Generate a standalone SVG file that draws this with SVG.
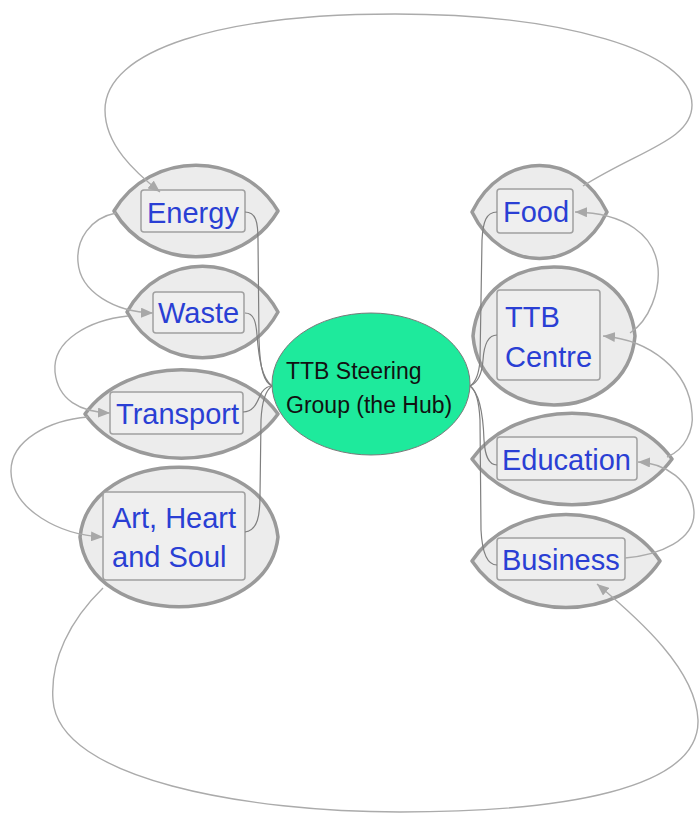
<svg xmlns="http://www.w3.org/2000/svg" width="699" height="815" viewBox="0 0 699 815">
<style>
.lens{fill:#ececec;stroke:#9a9a9a;stroke-width:3.5;stroke-linejoin:round}
.box{fill:#efefef;stroke:#a0a0a0;stroke-width:1.5}
.lbl{font-family:"Liberation Sans",Arial,sans-serif;font-size:29px;fill:#2a3fd4}
.hub{fill:#1eea9c;stroke:#7a7a7a;stroke-width:1}
.hubt{font-family:"Liberation Sans",Arial,sans-serif;font-size:23px;fill:#111}
.hl{fill:none;stroke:#7f7f7f;stroke-width:1.2}
.cl{fill:none;stroke:#ababab;stroke-width:1.4;marker-end:url(#ah)}
</style>
<defs>
<marker id="ah" viewBox="0 0 12 10" refX="12" refY="5" markerWidth="12" markerHeight="10" markerUnits="userSpaceOnUse" orient="auto"><path d="M0,0 L12,5 L0,10 Z" fill="#a8a8a8"/></marker>
</defs>
<rect width="699" height="815" fill="#ffffff"/>
<g id="hub">
<ellipse class="hub" cx="371" cy="384" rx="99" ry="71"/>
<text class="hubt" x="286" y="379">TTB Steering</text>
<text class="hubt" x="286" y="413">Group (the Hub)</text>
</g>
<g id="energy">
<path class="lens" d="M114,211 C150,150 242,150 278,211 C242,272 150,272 114,211Z"/>
<rect class="box" x="141" y="190" width="104" height="42" rx="3"/>
<text class="lbl" x="147" y="223">Energy</text>
</g>
<g id="waste">
<path class="lens" d="M127,312 C160,251 245,251 278,312 C245,373 160,373 127,312Z"/>
<rect class="box" x="153" y="292" width="91" height="41" rx="3"/>
<text class="lbl" x="158" y="323">Waste</text>
</g>
<g id="transport">
<path class="lens" d="M85,414 C127,355 236,355 278,414 C236,473 127,473 85,414Z"/>
<rect class="box" x="110" y="392" width="133" height="42" rx="3"/>
<text class="lbl" x="116" y="424">Transport</text>
</g>
<g id="art">
<path class="lens" d="M80,537 C90,444 268,444 278,537 C268,630 90,630 80,537Z"/>
<rect class="box" x="103" y="492" width="142" height="88" rx="3"/>
<text class="lbl" x="112" y="528">Art, Heart</text>
<text class="lbl" x="112" y="567">and Soul</text>
</g>
<g id="food">
<path class="lens" d="M472,212 C502,150 577,150 607,212 C577,274 502,274 472,212Z"/>
<rect class="box" x="497" y="189" width="76" height="44" rx="3"/>
<text class="lbl" x="503" y="222">Food</text>
</g>
<g id="ttbcentre">
<path class="lens" d="M473,336 C481,244 627,244 635,336 C627,428 481,428 473,336Z"/>
<rect class="box" x="497" y="290" width="103" height="90" rx="3"/>
<text class="lbl" x="505" y="327">TTB</text>
<text class="lbl" x="505" y="367">Centre</text>
</g>
<g id="education">
<path class="lens" d="M472,459 C516,398 628,398 672,459 C628,520 516,520 472,459Z"/>
<rect class="box" x="497" y="437" width="140" height="43" rx="3"/>
<text class="lbl" x="502" y="470">Education</text>
</g>
<g id="business">
<path class="lens" d="M472,561 C513,499 619,499 660,561 C619,623 513,623 472,561Z"/>
<rect class="box" x="497" y="538" width="128" height="42" rx="3"/>
<text class="lbl" x="502" y="570">Business</text>
</g>
<g id="connectors">
<path class="hl" d="M245,212 C256,212 258,222 258,240 L259,340 C260,370 264,382 272,386"/>
<path class="hl" d="M245,313 C254,313 256,322 257,335 C259,360 262,378 272,386"/>
<path class="hl" d="M243,412 C256,412 258,398 262,392 C265,388 268,386 272,386"/>
<path class="hl" d="M245,532 C258,530 260,515 260,495 L261,420 C262,400 266,390 272,386"/>
<path class="hl" d="M497,212 C486,212 483,222 482,240 L480,360 C479,375 476,382 470,386"/>
<path class="hl" d="M497,335 C488,335 484,345 483,360 C482,375 477,383 470,386"/>
<path class="hl" d="M497,465 C488,465 485,455 484,440 C483,410 478,392 470,386"/>
<path class="hl" d="M497,565 C486,565 482,550 481,530 L480,420 C479,400 476,390 470,386"/>
<path class="cl" d="M116,213 C90,218 76,240 78,262 C80,292 115,312 153,313"/>
<path class="cl" d="M128,316 C90,320 52,340 55,372 C58,400 80,412 110,413"/>
<path class="cl" d="M88,417 C50,420 10,440 11,472 C12,510 60,535 103,537"/>
<path class="cl" d="M103,588 C70,620 50,660 53,700 C58,780 250,812 400,812 C560,812 700,790 698,720 C696,670 640,620 597,584"/>
<path class="cl" d="M625,558 C660,555 695,540 694,512 C692,480 665,463 638,462"/>
<path class="cl" d="M667,457 C685,450 694,430 692,413 C689,370 650,340 603,336"/>
<path class="cl" d="M630,333 C650,320 660,290 658,268 C655,235 625,213 575,212"/>
<path class="cl" d="M583,186 C640,150 692,140 692,105 C692,50 560,14 395,14 C220,14 105,50 105,110 C105,145 135,172 160,192"/>
</g>
</svg>
